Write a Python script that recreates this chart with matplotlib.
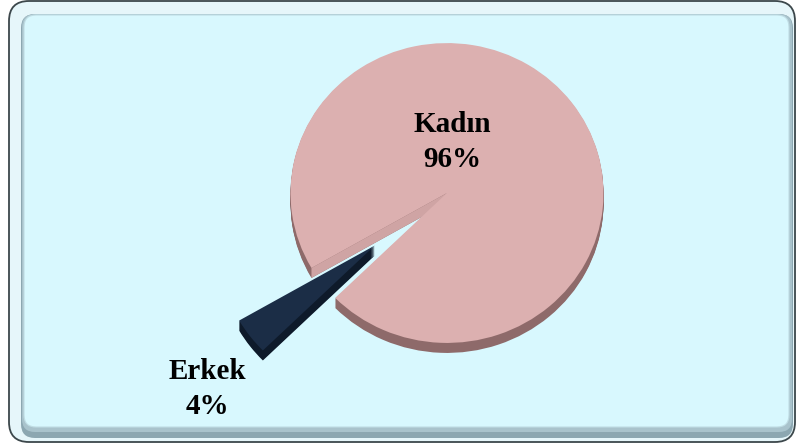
import numpy as np
import matplotlib
matplotlib.use("Agg")
import matplotlib.pyplot as plt
from matplotlib.patches import FancyBboxPatch, Polygon
from matplotlib.transforms import Affine2D

# data
labels = ["Kadın", "Erkek"]
shares = [96, 4]
colors = ["#dcb0b0", "#1b2d46"]
side_colors = ["#8e6a6a", "#0e1a2a"]
wall_color = "#cfa4a4"

W, H = 796, 443
fig = plt.figure(figsize=(W / 100, H / 100), dpi=100)
ax = fig.add_axes([0, 0, 1, 1])


def img_y(y):
    return H - y


# frame
outer = FancyBboxPatch((9, img_y(442)), 786, 441, boxstyle="round,pad=0,rounding_size=20",
                       facecolor="#e6f6fa", edgecolor="#3c474b", linewidth=1.3, zorder=0)
ax.add_patch(outer)
shadow = FancyBboxPatch((21, img_y(438)), 772, 424, boxstyle="round,pad=0,rounding_size=14",
                        facecolor="#8ca7b1", edgecolor="none", zorder=1)
ax.add_patch(shadow)
shadow2 = FancyBboxPatch((22, img_y(432)), 770, 418, boxstyle="round,pad=0,rounding_size=13",
                         facecolor="#a9c3cc", edgecolor="none", zorder=1.5)
ax.add_patch(shadow2)
panel = FancyBboxPatch((24, img_y(427)), 765, 412, boxstyle="round,pad=0,rounding_size=12",
                       facecolor="#d8f8fe", edgecolor="#c0dde4", linewidth=0.8, zorder=2)
ax.add_patch(panel)

# pie, drawn as a flat 3D disc
cx, cy = 447, img_y(193)
radius = 156.5
yscale = 0.958
depth = 10
pull = [0.0, 0.58]
gap_angle = 210
start = gap_angle + shares[1] / sum(shares) * 360

for d in range(depth, -1, -1):
    cols = colors if d == 0 else side_colors
    wedges, _ = ax.pie(shares, colors=cols, explode=[p * radius for p in pull],
                       startangle=start, center=(cx, cy - d), radius=radius,
                       wedgeprops=dict(linewidth=0), frame=True)
    squash = Affine2D().translate(-cx, -(cy - d)).scale(1, yscale).translate(cx, cy - d)
    for w in wedges:
        w.set_transform(squash + ax.transData)
        w.set_zorder(3 + (depth - d) * 0.01 + (0.2 if d == 0 else 0))

# lit cut face of the big slice, seen through the gap
a = np.deg2rad(gap_angle)
ex, ey = cx + radius * np.cos(a), cy + radius * yscale * np.sin(a)
wall = Polygon([(cx, cy), (ex, ey), (ex, ey - depth), (cx, cy - depth)],
               closed=True, facecolor=wall_color, edgecolor="none", zorder=3.15)
ax.add_patch(wall)

# labels
font = dict(family="Liberation Serif", fontsize=21, fontweight="bold", color="black",
            ha="center", va="center", linespacing=1.35, zorder=10)
ax.text(452, img_y(142), f"{labels[0]}\n{shares[0]}%", **font)
ax.text(207, img_y(389), f"{labels[1]}\n{shares[1]}%", **font)

ax.set_xlim(0, W)
ax.set_ylim(0, H)
ax.set_aspect("auto")
ax.axis("off")

fig.savefig("out.png", dpi=100)
plt.close(fig)
